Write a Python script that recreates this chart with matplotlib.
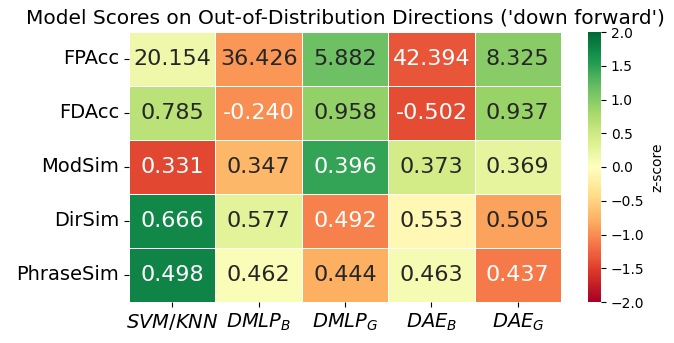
import numpy as np
import matplotlib
matplotlib.use("Agg")
import matplotlib.pyplot as plt
import seaborn as sns

models = ["$SVM/KNN$", "$DMLP_B$", "$DMLP_G$", "$DAE_B$", "$DAE_G$"]
metrics = ["FPAcc", "FDAcc", "ModSim", "DirSim", "PhraseSim"]
fpacc = [20.154, 36.426, 5.882, 42.394, 8.325]
fdacc = [0.785, -0.240, 0.958, -0.502, 0.937]
modsim = [0.331, 0.347, 0.396, 0.373, 0.369]
dirsim = [0.666, 0.577, 0.492, 0.553, 0.505]
phrasesim = [0.498, 0.462, 0.444, 0.463, 0.437]
lower_is_better = [True, False, False, False, False]

values = np.array([fpacc, fdacc, modsim, dirsim, phrasesim])
z = (values - values.mean(axis=1, keepdims=True)) / values.std(axis=1, keepdims=True)
for i, lib in enumerate(lower_is_better):
    if lib:
        z[i] = -z[i]

fig = plt.figure(figsize=(6.74, 3.43), dpi=100)
ax = fig.add_axes([129/674, 1 - 302/343, 432/674, 270/343])
cax = fig.add_axes([588/674, 1 - 302/343, 13/674, 270/343])
sns.heatmap(z, ax=ax, cbar_ax=cax, cmap="RdYlGn", vmin=-2, vmax=2,
            annot=values, fmt=".3f", annot_kws={"fontsize": 16},
            linewidths=0.5, linecolor="white",
            xticklabels=models, yticklabels=metrics,
            cbar_kws={"label": "z-score"})
ax.set_title("Model Scores on Out-of-Distribution Directions ('down forward')", fontsize=14.5)
ax.tick_params(axis="x", labelsize=14, rotation=0)
ax.tick_params(axis="y", labelsize=14, rotation=0)
cax.tick_params(labelsize=10)
fig.savefig("out.png", dpi=100)
